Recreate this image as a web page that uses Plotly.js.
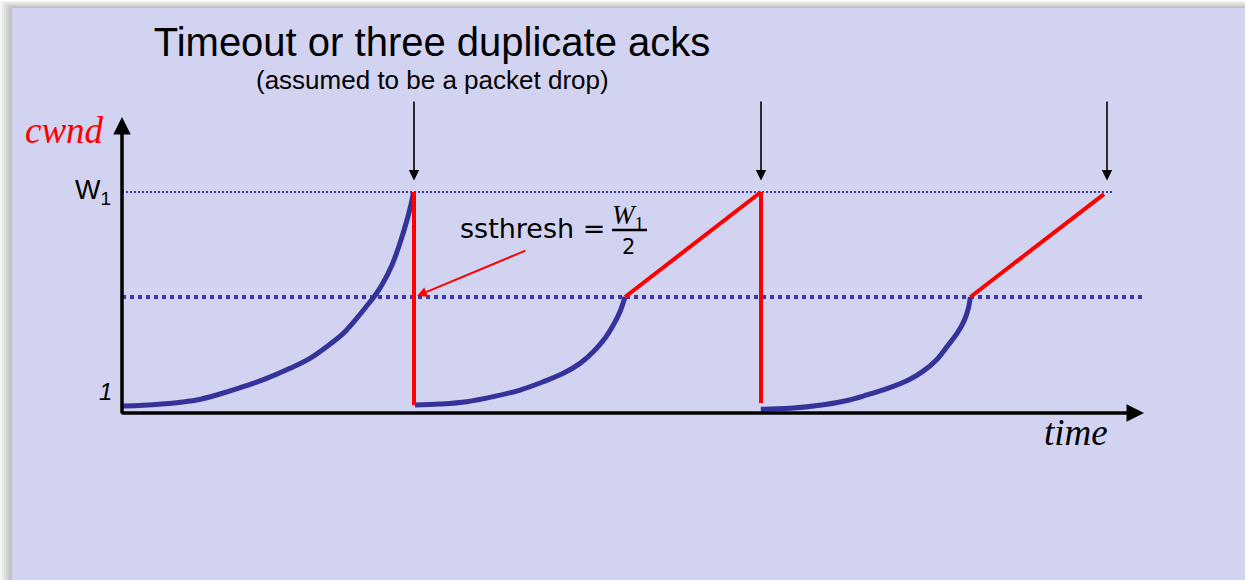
<!DOCTYPE html>
<html>
<head>
<meta charset="utf-8">
<script src="https://cdn.plot.ly/plotly-3.0.1.min.js"></script>
<style>html,body{margin:0;padding:0;background:#fff;}#chart{width:1245px;height:580px;}</style>
</head>
<body>
<div id="chart"></div>
<script>
// ---- data (time units, cwnd units) ----
const W1 = 20;
const SSTHRESH = 10;
// slow-start phases
const ss1Time = [0.13, 2.13, 5.47, 7.47, 9.47, 12.13, 14.47, 16.8, 18.8, 20.47, 22.13, 23.47, 24.47, 25.3, 26.1, 27.0, 27.8, 28.5, 29.0, 29.13];
const ss1Cwnd = [-0.38, -0.31, -0.07, 0.19, 0.67, 1.46, 2.25, 3.21, 4.16, 5.27, 6.54, 7.97, 9.14, 10.14, 11.33, 13.05, 15.14, 17.33, 19.24, 20.0];
const ss2Time = [29.3, 31.8, 34.47, 37.13, 39.8, 42.13, 44.13, 45.8, 47.13, 48.3, 49.13, 49.8, 50.3];
const ss2Cwnd = [-0.29, -0.19, 0.03, 0.51, 1.14, 1.93, 2.73, 3.68, 4.79, 6.07, 7.33, 8.6, 10.0];
const ss3Time = [63.88, 66.84, 69.97, 72.4, 74.48, 76.57, 78.65, 80.05, 81.44, 82.48, 83.52, 84.22, 84.63, 84.84];
const ss3Cwnd = [-0.70, -0.60, -0.29, 0.12, 0.67, 1.30, 2.10, 2.89, 4.0, 5.25, 6.55, 7.75, 8.9, 10.0];
// congestion avoidance (linear) phases
const ca1Time = [50.3, 63.9];
const ca1Cwnd = [10.0, 20.0];
const ca2Time = [84.84, 98.2];
const ca2Cwnd = [10.0, 19.8];
// drops back to 1
const drop1Time = [29.2, 29.2];
const drop1Cwnd = [20.0, -0.29];
const drop2Time = [63.9, 63.9];
const drop2Cwnd = [20.0, -0.1];
// loss events (timeout / 3 dup acks)
const lossTimes = [29.2, 63.9, 98.5];
const lossArrowTop = 28.76;
const lossArrowTip = 21.1;
// reference levels
const w1LineTime = [0, 99.0];
const ssLineTime = [0, 102.1];
// axis extents
const axisBase = -1.05;
const timeAxisEnd = 102.2;
const cwndAxisEnd = 27.14;
// tick labels
const yTickVals = [1, 20];
const yTickText = ['<i>1</i>', 'W<sub>1</sub>'];

const BLUE = '#333399';
const RED = '#ff0000';
const curveLine = {color: BLUE, width: 5, shape: 'spline', smoothing: 1};

const traces = [
  {x: w1LineTime, y: [W1, W1], mode: 'lines', line: {color: '#3a3aa0', width: 2, dash: '2px,2px'}},
  {x: ssLineTime, y: [SSTHRESH, SSTHRESH], mode: 'lines', line: {color: '#3a3aa0', width: 4, dash: '4px,4px'}},
  {x: ss1Time, y: ss1Cwnd, mode: 'lines', line: curveLine},
  {x: ss2Time, y: ss2Cwnd, mode: 'lines', line: curveLine},
  {x: ss3Time, y: ss3Cwnd, mode: 'lines', line: curveLine},
  {x: drop1Time, y: drop1Cwnd, mode: 'lines', line: {color: RED, width: 4}},
  {x: drop2Time, y: drop2Cwnd, mode: 'lines', line: {color: RED, width: 4}},
  {x: ca1Time, y: ca1Cwnd, mode: 'lines', line: {color: RED, width: 4}},
  {x: ca2Time, y: ca2Cwnd, mode: 'lines', line: {color: RED, width: 4}}
];

const annotations = [];
// axes with arrowheads
annotations.push({x: timeAxisEnd, y: axisBase, ax: -0.2, ay: axisBase, xref: 'x', yref: 'y', axref: 'x', ayref: 'y',
  text: '', showarrow: true, arrowhead: 2, arrowsize: 1, arrowwidth: 3.5, arrowcolor: '#000'});
annotations.push({x: 0, y: cwndAxisEnd, ax: 0, ay: axisBase - 0.17, xref: 'x', yref: 'y', axref: 'x', ayref: 'y',
  text: '', showarrow: true, arrowhead: 2, arrowsize: 1, arrowwidth: 3.5, arrowcolor: '#000'});
// loss event arrows
lossTimes.forEach(t => annotations.push({x: t, y: lossArrowTip, ax: t, ay: lossArrowTop, xref: 'x', yref: 'y', axref: 'x', ayref: 'y',
  text: '', showarrow: true, arrowhead: 2, arrowsize: 1.3, arrowwidth: 1.6, arrowcolor: '#000'}));
// ssthresh pointer
annotations.push({x: 29.5, y: 10.1, ax: 40.5, ay: 14.48, xref: 'x', yref: 'y', axref: 'x', ayref: 'y',
  text: '', showarrow: true, arrowhead: 2, arrowsize: 1, arrowwidth: 2, arrowcolor: RED});
// tick labels
yTickVals.forEach((v, i) => annotations.push({x: i === 0 ? -0.8 : -0.9, y: v, xref: 'x', yref: 'y', xanchor: 'right', yanchor: 'middle',
  text: yTickText[i], showarrow: false, font: {family: 'Liberation Sans, Arial, sans-serif', size: i === 0 ? 24 : 27, color: '#000'}}));
// axis titles
annotations.push({x: -5.8, y: 25.9, xref: 'x', yref: 'y', text: '<i>cwnd</i>', showarrow: false,
  font: {family: 'Liberation Serif, Times New Roman, serif', size: 37, color: RED}});
annotations.push({x: 95.4, y: -2.86, xref: 'x', yref: 'y', text: '<i>time</i>', showarrow: false,
  font: {family: 'Liberation Serif, Times New Roman, serif', size: 37, color: '#000'}});
// subtitle
annotations.push({x: 31.0, y: 30.67, xref: 'x', yref: 'y', text: '(assumed to be a packet drop)', showarrow: false,
  font: {family: 'Liberation Sans, Arial, sans-serif', size: 26, color: '#000'}});
// ssthresh formula
annotations.push({x: 33.6, y: 16.57, xref: 'x', yref: 'y', xanchor: 'left', text: 'ssthresh =', showarrow: false,
  font: {family: 'DejaVu Sans, sans-serif', size: 27, color: '#000'}});
annotations.push({x: 50.6, y: 17.6, xref: 'x', yref: 'y', text: '<i>W</i><sub>1</sub>', showarrow: false,
  font: {family: 'Liberation Serif, serif', size: 27, color: '#000'}});
annotations.push({x: 50.6, y: 14.8, xref: 'x', yref: 'y', text: '2', showarrow: false,
  font: {family: 'DejaVu Sans, sans-serif', size: 21, color: '#000'}});

const shapes = [];
// slide shadow
for (let i = 1; i <= 6; i++) {
  shapes.push({type: 'rect', xref: 'paper', yref: 'paper', layer: 'below',
    x0: (12 - 2 * i) / 1245, x1: 1, y0: 0, y1: 1 - (8 - 1.2 * i) / 580,
    fillcolor: 'rgba(0,0,0,0.045)', line: {width: 0}});
}
// slide panel
shapes.push({type: 'rect', xref: 'paper', yref: 'paper', layer: 'below',
  x0: 12 / 1245, x1: 1, y0: 0, y1: 1 - 8 / 580, fillcolor: '#D2D3F0', line: {width: 0}});
// fraction bar
shapes.push({type: 'line', xref: 'x', yref: 'y', x0: 49.0, x1: 52.5, y0: 16.38, y1: 16.38,
  line: {color: '#000', width: 2.5}});

const layout = {
  width: 1245, height: 580, autosize: false,
  margin: {l: 0, r: 0, t: 0, b: 0, pad: 0},
  paper_bgcolor: '#ffffff', plot_bgcolor: 'rgba(0,0,0,0)',
  showlegend: false,
  title: {text: 'Timeout or three duplicate acks', x: 432 / 1245, xanchor: 'center', xref: 'paper',
    y: 1 - 42 / 580, yanchor: 'middle', yref: 'container',
    font: {family: 'Liberation Sans, Arial, sans-serif', size: 40, color: '#000'}},
  xaxis: {range: [-12.2, 112.3], visible: false, fixedrange: true},
  yaxis: {range: [-16.952, 38.286], visible: false, fixedrange: true},
  annotations: annotations,
  shapes: shapes
};

Plotly.newPlot('chart', traces, layout, {staticPlot: true, displayModeBar: false});
</script>
</body>
</html>
